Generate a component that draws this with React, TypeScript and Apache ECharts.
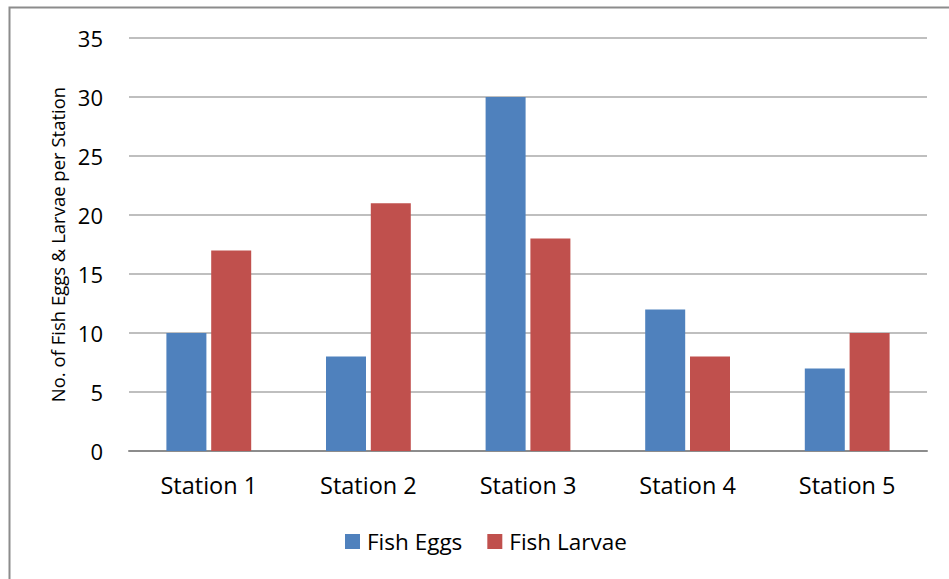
import React, { useEffect, useRef } from "react";
import * as echarts from "echarts";

const categories = ["Station 1", "Station 2", "Station 3", "Station 4", "Station 5"];
const fishEggs = [10, 8, 30, 12, 7];
const fishLarvae = [17, 21, 18, 8, 10];
const yTicks = { min: 0, max: 35, interval: 5 };
const yAxisTitle = "No. of Fish Eggs & Larvae per Station";

const FONT = "'Open Sans', Lato, sans-serif";

export default function App() {
  const ref = useRef<HTMLDivElement>(null);
  useEffect(() => {
    if (!ref.current) return;
    const chart = echarts.init(ref.current, null, { renderer: "svg" });
    chart.setOption({
      animation: false,
      backgroundColor: "#ffffff",
      textStyle: { fontFamily: FONT },
      graphic: [
        {
          type: "rect",
          shape: { x: 9.5, y: 7.5, width: 1000, height: 1000 },
          style: { fill: "none", stroke: "#8c8c8c", lineWidth: 2 },
          silent: true,
        },
      ],
      grid: { left: 129, right: 22, top: 38, bottom: 128, containLabel: false },
      legend: {
        top: 525,
        left: 340,
        itemWidth: 15,
        itemHeight: 15,
        itemGap: 25,
        icon: "rect",
        textStyle: { fontSize: 22.5, color: "#000", fontFamily: FONT, padding: [0, 0, 0, 2] },
        data: ["Fish Eggs", "Fish Larvae"],
      },
      xAxis: {
        type: "category",
        data: categories,
        axisLine: { show: true, lineStyle: { color: "#8c8c8c", width: 2 } },
        axisTick: { show: false },
        axisLabel: { fontSize: 23.5, color: "#000", margin: 22, fontFamily: FONT },
      },
      yAxis: {
        type: "value",
        min: yTicks.min,
        max: yTicks.max,
        interval: yTicks.interval,
        name: yAxisTitle,
        nameLocation: "middle",
        nameGap: 62,
        nameTextStyle: { fontSize: 18.5, color: "#000", fontFamily: FONT },
        axisLine: { show: false },
        axisTick: { show: false },
        axisLabel: { fontSize: 22, color: "#000", margin: 26, fontFamily: FONT },
        splitLine: { lineStyle: { color: "#bfbfbf", width: 2 } },
      },
      series: [
        {
          name: "Fish Eggs",
          type: "bar",
          data: fishEggs,
          barWidth: 40,
          barGap: "12%",
          itemStyle: { color: "#4f81bd" },
        },
        {
          name: "Fish Larvae",
          type: "bar",
          data: fishLarvae,
          barWidth: 40,
          barGap: "12%",
          itemStyle: { color: "#c0504d" },
        },
      ],
    });
    return () => chart.dispose();
  }, []);
  return (
    <div
      ref={ref}
      style={{ position: "fixed", left: 0, top: 0, width: 949, height: 579 }}
    />
  );
}
